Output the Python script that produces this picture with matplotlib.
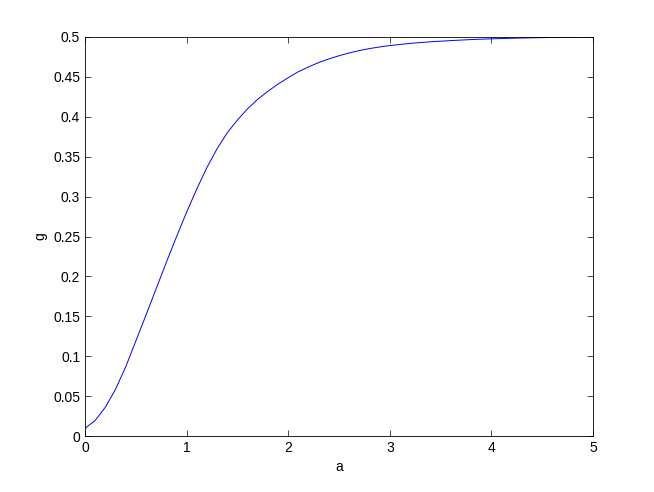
import matplotlib
matplotlib.use("Agg")
import matplotlib.pyplot as plt

# values
a_vals = [0.0, 0.1, 0.2, 0.3, 0.4, 0.5, 0.6, 0.7, 0.8, 0.9,
          1.0, 1.1, 1.2, 1.3, 1.4, 1.5, 1.6, 1.7, 1.8, 1.9,
          2.0, 2.1, 2.2, 2.3, 2.4, 2.5, 2.6, 2.7, 2.8, 2.9,
          3.0, 3.2, 3.4, 3.6, 3.8, 4.0, 4.25, 4.5, 4.75, 5.0]
g_vals = [0.0096, 0.0195, 0.0360, 0.0585, 0.0865, 0.1190, 0.1515, 0.1845, 0.2175, 0.2495,
          0.2805, 0.3095, 0.3365, 0.3600, 0.3800, 0.3960, 0.4100, 0.4220, 0.4320, 0.4410,
          0.4490, 0.4565, 0.4625, 0.4680, 0.4725, 0.4765, 0.4800, 0.4830, 0.4855, 0.4875,
          0.4893, 0.4920, 0.4940, 0.4955, 0.4968, 0.4977, 0.4986, 0.4992, 0.4997, 0.5000]

x_ticks = [0, 1, 2, 3, 4, 5]
y_ticks = [0, 0.05, 0.1, 0.15, 0.2, 0.25, 0.3, 0.35, 0.4, 0.45, 0.5]
y_labels = ["0", "0.05", "0.1", "0.15", "0.2", "0.25", "0.3", "0.35", "0.4", "0.45", "0.5"]

plt.rcParams["font.family"] = ["Liberation Sans", "DejaVu Sans"]
plt.rcParams["font.size"] = 10

fig = plt.figure(figsize=(6.54, 4.92), dpi=100)
ax = fig.add_axes([0.13, 0.1138, 0.7767, 0.8110])

ax.plot(a_vals, g_vals, color="#0000ff", linewidth=0.7)

ax.set_xlim(0, 5)
ax.set_ylim(0, 0.5)
ax.set_xticks(x_ticks)
ax.set_yticks(y_ticks)
ax.set_yticklabels(y_labels)
ax.tick_params(direction="in", top=True, right=True, length=4, width=0.5,
               labelsize=10)
for s in ax.spines.values():
    s.set_linewidth(0.6)
    s.set_color("black")

ax.set_xlabel("a")
ax.set_ylabel("g")

fig.savefig("out.png", dpi=100)
